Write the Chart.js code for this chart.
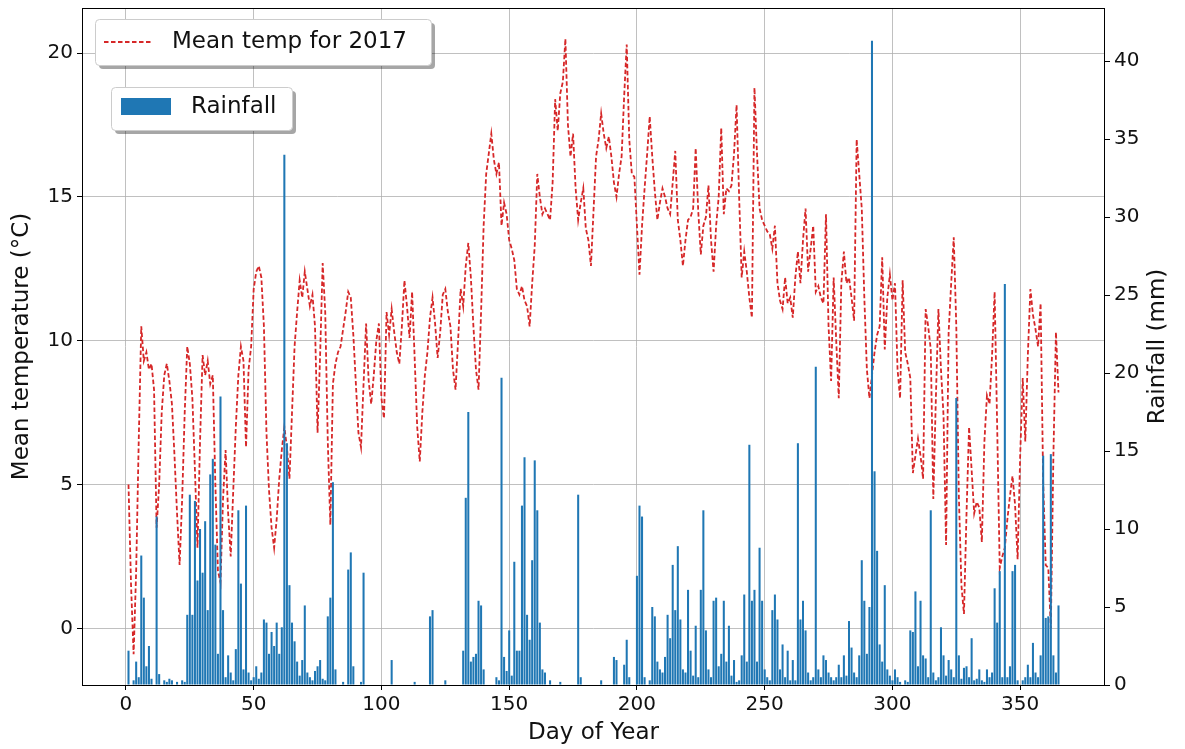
<!DOCTYPE html>
<html>
<head>
<meta charset="utf-8">
<script src="https://cdn.jsdelivr.net/npm/chart.js@4.4.1/dist/chart.umd.min.js"></script>
<style>
  html, body { margin: 0; padding: 0; background: #fff; }
  #wrap { width: 1185px; height: 749px; }
</style>
</head>
<body>
<div id="wrap"><canvas id="chart" width="1185" height="749"></canvas></div>
<script>
// day-of-year categories
const DAYS = [];
for (let d = 1; d <= 365; d++) DAYS.push(d);

// mean temperature (°C)
const TEMP = [
  5.0, 1.5, -0.9, 2.0, 6.5, 10.5, 9.3, 9.6, 9.0, 9.2,
  8.3, 3.5, 5.0, 7.5, 8.8, 9.2, 8.6, 7.8, 6.0, 4.0,
  2.2, 4.5, 7.5, 9.8, 9.2, 8.0, 5.5, 2.8, 6.5, 9.5,
  8.8, 9.3, 8.5, 8.8, 5.0, 2.0, 1.6, 4.5, 6.2, 4.0,
  2.5, 4.8, 7.0, 8.8, 9.8, 9.3, 6.3, 9.0, 9.8, 11.8,
  12.4, 12.6, 12.2, 10.5, 6.8, 4.8, 3.5, 2.8, 3.8, 5.2,
  6.2, 7.0, 6.3, 5.2, 7.5, 9.8, 11.0, 12.1, 11.5, 12.4,
  11.8, 11.2, 11.6, 10.5, 6.8, 9.5, 12.7, 11.0, 6.5, 3.6,
  8.5, 9.2, 9.6, 9.8, 10.4, 11.0, 11.7, 11.5, 10.2, 8.5,
  6.8, 6.3, 8.5, 10.6, 8.6, 7.8, 8.8, 10.0, 10.6, 8.0,
  7.3, 11.0, 10.2, 11.1, 10.3, 9.6, 9.2, 10.5, 12.1, 11.2,
  10.1, 11.7, 9.4, 7.0, 5.8, 7.5, 8.8, 9.6, 10.8, 11.5,
  10.6, 9.4, 10.3, 11.6, 11.8, 11.0, 10.5, 9.0, 8.3, 10.0,
  11.8, 11.2, 12.6, 13.4, 12.2, 10.5, 9.0, 8.3, 11.0, 14.0,
  15.8, 16.5, 17.2, 16.3, 15.8, 16.2, 14.0, 14.8, 14.4, 13.5,
  13.2, 12.8, 11.8, 11.6, 11.9, 11.4, 11.2, 10.5, 12.0, 13.3,
  15.8, 15.0, 14.4, 14.6, 14.4, 14.2, 15.5, 18.4, 17.3, 18.6,
  19.0, 20.5, 17.5, 16.4, 17.2, 15.3, 14.2, 14.8, 15.3, 13.9,
  13.5, 12.6, 14.5, 16.4, 17.0, 17.9, 17.2, 16.7, 17.1, 16.4,
  15.5, 15.0, 15.8, 16.4, 18.5, 20.3, 17.0, 15.8, 15.7, 14.0,
  12.3, 14.0, 15.3, 16.5, 17.8, 16.4, 15.2, 14.2, 14.8, 15.3,
  15.0, 14.6, 14.4, 15.5, 16.6, 14.2, 13.5, 12.6, 13.5, 14.2,
  14.3, 14.6, 16.7, 14.5, 13.0, 14.0, 14.3, 15.4, 13.5, 12.4,
  14.0, 15.0, 17.4, 14.4, 15.3, 15.2, 15.4, 16.5, 18.2, 15.0,
  12.2, 13.1, 12.4, 11.5, 10.8, 18.8, 16.5, 14.6, 14.2, 14.0,
  13.8, 13.7, 13.2, 14.0, 12.0, 11.4, 11.1, 12.2, 11.3, 11.5,
  10.8, 12.2, 13.1, 12.0, 13.5, 14.6, 12.4, 13.2, 14.0, 11.7,
  11.9, 11.5, 11.3, 14.4, 10.5, 8.6, 12.2, 10.0, 8.0, 12.0,
  13.1, 12.0, 12.2, 11.5, 10.7, 17.0, 15.8, 14.6, 11.5, 9.0,
  8.0, 8.8, 9.6, 10.2, 10.5, 12.9, 9.7, 11.5, 12.3, 11.4,
  12.0, 9.0, 8.0, 12.1, 9.6, 9.2, 8.7, 5.4, 6.0, 6.6,
  6.0, 5.2, 11.1, 10.5, 9.7, 4.5, 8.0, 11.1, 9.0, 7.4,
  2.9, 10.3, 12.0, 13.6, 10.5, 4.6, 1.5, 0.5, 4.0, 7.0,
  5.5, 4.0, 4.4, 4.2, 3.0, 6.5, 8.1, 7.8, 9.5, 11.7,
  7.0, 2.1, 2.5, 2.8, 3.8, 4.6, 5.3, 4.3, 2.4, 6.0,
  8.7, 6.5, 9.5, 11.8, 10.9, 10.4, 9.8, 11.3, 5.1, 2.2,
  2.1, 0.0, 6.0, 10.3, 8.2
];

// daily rainfall (mm)
const RAIN = [
  2.2, 0, 0.3, 1.5, 0.5, 8.3, 5.6, 1.2, 2.5, 0.4,
  0, 10.8, 0.7, 0, 0.3, 0.2, 0.4, 0.3, 0, 0.2,
  0, 0.3, 0.2, 4.5, 12.2, 4.5, 11.8, 6.7, 10.0, 7.2,
  10.5, 4.8, 13.5, 14.5, 9.0, 2.0, 18.5, 4.8, 0.5, 1.9,
  0.8, 0.3, 2.3, 11.2, 6.5, 1.0, 11.5, 0.8, 0.3, 0.5,
  1.2, 0.4, 0.8, 4.2, 4.0, 2.0, 3.4, 2.5, 4.0, 2.0,
  3.7, 34.0, 15.5, 6.4, 4.0, 2.8, 1.5, 0.6, 1.6, 5.1,
  0.8, 0.5, 0.3, 0.9, 1.2, 1.6, 0.4, 0.3, 4.4, 5.6,
  13.0, 1.0, 0, 0, 0.2, 0, 7.4, 8.5, 1.2, 0,
  0, 0.2, 7.2, 0, 0, 0, 0, 0, 0, 0,
  0, 0, 0, 1.6, 0, 0, 0, 0, 0, 0,
  0, 0, 0.2, 0, 0, 0, 0, 0, 4.4, 4.8,
  0, 0, 0, 0, 0.3, 0, 0, 0, 0, 0,
  0, 2.2, 12.0, 17.5, 1.5, 1.8, 2.0, 5.4, 5.1, 1.0,
  0, 0, 0, 0, 0.5, 0.3, 19.7, 1.8, 0.9, 3.5,
  0.6, 7.9, 2.2, 2.2, 11.5, 14.6, 4.5, 2.9, 8.0, 14.4,
  11.2, 4.0, 1.0, 0.8, 0, 0.3, 0, 0, 0, 0.2,
  0, 0, 0, 0, 0, 0, 12.2, 0.5, 0, 0,
  0, 0, 0, 0, 0, 0.3, 0, 0, 0, 0,
  1.8, 1.6, 0, 0, 1.3, 2.9, 0.5, 0, 0, 7.0,
  11.5, 10.8, 0.5, 0, 0.3, 5.0, 4.4, 1.5, 1.0, 0.8,
  1.8, 4.5, 3.0, 7.7, 4.8, 8.9, 4.2, 1.0, 0.8, 6.1,
  2.2, 0.6, 3.8, 0.5, 6.1, 11.2, 3.5, 1.0, 0.5, 5.4,
  5.6, 1.2, 2.0, 5.4, 1.5, 3.8, 0.6, 1.6, 0.2, 0.3,
  1.9, 5.8, 1.5, 15.4, 5.4, 6.1, 1.5, 8.8, 5.4, 1.0,
  0.5, 0.3, 4.8, 5.8, 4.2, 1.0, 2.6, 0.5, 2.2, 0.3,
  1.6, 0.3, 15.5, 4.2, 5.4, 3.5, 0.8, 0.3, 0.5, 20.4,
  1.0, 0.5, 1.9, 1.6, 0.8, 0.5, 0.3, 0.5, 1.3, 0.5,
  1.9, 0.6, 4.1, 2.4, 0.8, 0.5, 1.9, 8.0, 5.4, 2.0,
  5.0, 41.3, 13.7, 8.6, 2.6, 1.5, 6.4, 1.0, 0.6, 0.3,
  1.0, 0.5, 0.2, 0, 0.3, 0.2, 3.5, 3.4, 6.0, 1.2,
  5.4, 1.9, 1.7, 0.5, 11.2, 0.8, 0.3, 0.5, 3.7, 1.9,
  0.6, 1.6, 1.0, 0.5, 18.4, 1.9, 0.4, 1.1, 1.2, 0.5,
  3.0, 0.3, 0.4, 1.0, 0.3, 0.2, 1.0, 0.5, 0.8, 6.2,
  4.0, 7.3, 0.5, 25.7, 0.5, 1.2, 7.3, 7.7, 0.3, 0,
  0.3, 0.5, 1.3, 0.5, 2.7, 0.8, 0.5, 1.9, 14.7, 4.3,
  4.4, 14.8, 1.9, 0.8, 5.1
];

const X_TICKS = [0, 50, 100, 150, 200, 250, 300, 350];
const TEMP_TICKS = [0, 5, 10, 15, 20];
const RAIN_TICKS = [0, 5, 10, 15, 20, 25, 30, 35, 40];

const FONT = "'DejaVu Sans', sans-serif";
const TEXT = '#111';
const RED = '#d62728';
const BLUE = '#1f77b4';

// frame, axis titles and the two separate legend boxes
const extras = {
  id: 'extras',
  afterDraw(chart) {
    const { ctx, chartArea: a } = chart;
    ctx.save();

    ctx.strokeStyle = '#000';
    ctx.lineWidth = 1;
    ctx.strokeRect(Math.round(a.left) + 0.5, Math.round(a.top) + 0.5,
      Math.round(a.right - a.left) - 1, Math.round(a.bottom - a.top));

    ctx.fillStyle = TEXT;
    ctx.font = '23px ' + FONT;
    ctx.textAlign = 'center';
    ctx.textBaseline = 'middle';
    const midY = (a.top + a.bottom) / 2;
    ctx.fillText('Day of Year', (a.left + a.right) / 2, 733);
    ctx.save();
    ctx.translate(22, midY);
    ctx.rotate(-Math.PI / 2);
    ctx.fillText('Mean temperature (\u00B0C)', 0, 0);
    ctx.restore();
    ctx.save();
    ctx.translate(1158, midY);
    ctx.rotate(-Math.PI / 2);
    ctx.fillText('Rainfall (mm)', 0, 0);
    ctx.restore();

    const box = (x, y, w, h) => {
      ctx.fillStyle = 'rgba(0,0,0,0.35)';
      ctx.beginPath();
      ctx.roundRect(x + 4, y + 4, w, h, 4);
      ctx.fill();
      ctx.fillStyle = '#fff';
      ctx.strokeStyle = '#cccccc';
      ctx.lineWidth = 1;
      ctx.beginPath();
      ctx.roundRect(x + 0.5, y + 0.5, w, h, 4);
      ctx.fill();
      ctx.stroke();
    };

    box(95, 19, 336, 46);
    ctx.strokeStyle = RED;
    ctx.lineWidth = 1.8;
    ctx.setLineDash([4.5, 2.5]);
    ctx.beginPath();
    ctx.moveTo(104, 42);
    ctx.lineTo(153, 42);
    ctx.stroke();
    ctx.setLineDash([]);
    ctx.fillStyle = TEXT;
    ctx.textAlign = 'left';
    ctx.fillText('Mean temp for 2017', 172, 42);

    box(111, 87, 181, 43);
    ctx.fillStyle = BLUE;
    ctx.fillRect(121, 98, 50, 17);
    ctx.fillStyle = TEXT;
    ctx.fillText('Rainfall', 191, 107);

    ctx.restore();
  }
};

const tickFont = { family: FONT, size: 20 };

new Chart(document.getElementById('chart'), {
  type: 'bar',
  data: {
    datasets: [
      {
        type: 'line',
        label: 'Mean temp for 2017',
        data: DAYS.map((d, i) => ({ x: d, y: TEMP[i] })),
        yAxisID: 'y',
        borderColor: RED,
        borderWidth: 1.8,
        borderDash: [4.5, 2.5],
        pointRadius: 0,
        tension: 0,
        fill: false,
        order: 1
      },
      {
        type: 'bar',
        label: 'Rainfall',
        data: DAYS.map((d, i) => ({ x: d, y: RAIN[i] })),
        yAxisID: 'y1',
        backgroundColor: BLUE,
        borderWidth: 0,
        barPercentage: 0.8,
        categoryPercentage: 1.0,
        order: 0
      }
    ]
  },
  options: {
    responsive: false,
    animation: false,
    devicePixelRatio: 1,
    layout: { padding: { top: 8, left: 0, right: 0, bottom: 0 } },
    plugins: { legend: { display: false }, tooltip: { enabled: false } },
    scales: {
      x: {
        type: 'linear',
        min: -17.2,
        max: 383.2,
        offset: false,
        grid: { offset: false, color: '#b0b0b0', lineWidth: 0.8, tickColor: '#000', tickWidth: 1, tickLength: 5 },
        border: { display: false },
        ticks: { font: tickFont, color: TEXT, padding: 3, maxRotation: 0, autoSkip: false },
        afterBuildTicks: s => { s.ticks = X_TICKS.map(v => ({ value: v })); },
        afterFit: s => { s.height = 64; s.paddingLeft = 0; s.paddingRight = 0; }
      },
      y: {
        type: 'linear',
        position: 'left',
        min: -1.97,
        max: 21.57,
        grid: { color: '#b0b0b0', lineWidth: 0.8, tickColor: '#000', tickWidth: 1, tickLength: 5 },
        border: { display: false },
        ticks: { font: tickFont, color: TEXT, padding: 4 },
        afterBuildTicks: s => { s.ticks = TEMP_TICKS.map(v => ({ value: v })); },
        afterFit: s => { s.width = 82; s.paddingTop = 0; s.paddingBottom = 0; }
      },
      y1: {
        type: 'linear',
        position: 'right',
        min: 0,
        max: 43.4,
        grid: { drawOnChartArea: false, tickColor: '#000', tickWidth: 1, tickLength: 5 },
        border: { display: false },
        ticks: { font: tickFont, color: TEXT, padding: 4 },
        afterBuildTicks: s => { s.ticks = RAIN_TICKS.map(v => ({ value: v })); },
        afterFit: s => { s.width = 80; s.paddingTop = 0; s.paddingBottom = 0; }
      }
    }
  },
  plugins: [extras]
});
</script>
</body>
</html>
